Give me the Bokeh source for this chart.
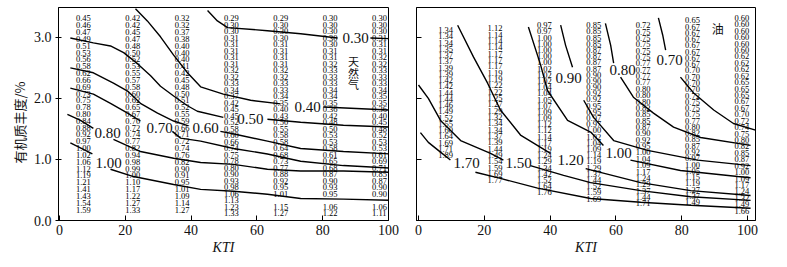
import numpy as np
from bokeh.plotting import figure
from bokeh.models import ColumnDataSource, FixedTicker, Range1d, NumeralTickFormatter, Title
from bokeh.layouts import row
from bokeh.core.properties import value
from bokeh.embed import file_html
from bokeh.resources import INLINE

NAN = float("nan")

# ---------------- Left panel: gas (天然气) ----------------
L_COL_KTI = [5, 20, 35, 50, 65, 80, 95]
L_COL_TOP = [3.31, 3.31, 3.31, 3.31, 3.31, 3.31, 3.31]
L_COL_BOTTOM = [0.18, 0.18, 0.18, 0.12, 0.12, 0.12, 0.12]
L_COL_A = ["0.45", "0.46", "0.47", "0.49", "0.51", "0.53", "0.56", "0.58", "0.62", "0.66",
           "0.69", "0.73", "0.75", "0.78", "0.80", "0.84", "0.88", "0.92", "0.97", "1.00",
           "1.02", "1.06", "1.12", "1.19", "1.21", "1.41", "1.43", "1.54", "1.59"]
L_COL_B = ["0.42", "0.42", "0.45", "0.47", "0.48", "0.50", "0.52", "0.53", "0.55", "0.57",
           "0.58", "0.60", "0.62", "0.65", "0.67", "0.70", "0.72", "0.74", "0.77", "0.82",
           "0.94", "0.98", "0.99", "1.00", "1.10", "1.17", "1.22", "1.27", "1.33"]
L_COL_C = ["0.32", "0.32", "0.37", "0.38", "0.40", "0.40", "0.40", "0.41", "0.42", "0.45",
           "0.48", "0.50", "0.51", "0.52", "0.55", "0.59", "0.66", "0.71", "0.72", "0.74",
           "0.76", "0.82", "0.90", "0.91", "0.95", "1.01", "1.09", "1.14", "1.27"]
L_COL_D = ["0.29", "0.30", "0.30", "0.31", "0.31", "0.31", "0.31", "0.31", "0.32", "0.32",
           "0.33", "0.34", "0.37", "0.42", "0.45", "0.45", "0.52", "0.58", "0.60", "0.66",
           "0.74", "0.75", "0.78", "0.80", "0.90", "0.93", "0.98", "1.06", "1.13", "1.23", "1.33"]
L_COL_E = ["0.29", "0.30", "0.30", "0.30", "0.31", "0.31", "0.31", "0.31", "0.32", "0.32",
           "0.33", "0.33", "0.34", "0.35", "0.40", "0.43", "0.50", "0.55", "0.58", "0.58",
           "0.64", "0.68", "0.73", "0.77", "0.88", "0.92", "0.95", "1.01", "", "1.15", "1.27"]
L_COL_F = ["0.30", "0.30", "0.30", "0.30", "0.30", "0.31", "0.31", "0.32", "0.33", "0.33",
           "0.33", "0.34", "0.34", "0.35", "0.36", "0.42", "0.48", "0.50", "0.53", "0.53",
           "0.58", "0.61", "0.65", "0.68", "0.87", "0.90", "0.93", "0.95", "", "1.06", "1.22"]
L_COL_G = ["0.30", "0.30", "0.30", "0.31", "0.31", "0.31", "0.32", "0.32", "0.33", "0.33",
           "0.33", "0.34", "0.35", "0.35", "0.36", "0.40", "0.45", "0.48", "0.52", "0.53",
           "0.53", "0.61", "0.69", "0.71", "0.85", "0.87", "0.90", "0.90", "", "1.06", "1.11"]
L_COLS = [L_COL_A, L_COL_B, L_COL_C, L_COL_D, L_COL_E, L_COL_F, L_COL_G]

# contour curves (KTI, TOC) with a break where the label sits
L030_X = [45.0, 48.0, 51.1, 63.2, 73.3, 84.5, NAN, 94.5, 100.6]
L030_Y = [3.44, 3.27, 3.16, 3.11, 3.06, 2.99, NAN, 2.99, 2.98]
L040_X = [23.1, 26.7, 30.7, 34.7, 38.9, 42.9, 49.8, 58.1, 67.2, NAN, 80.2, 100.6]
L040_Y = [3.47, 3.27, 3.01, 2.71, 2.42, 2.19, 2.07, 1.97, 1.91, NAN, 1.86, 1.81]
L050_X = [3.3, 10.3, 15.5, 19.5, 23.7, 27.7, 30.7, 34.7, 38.9, 41.9, 49.8, NAN, 63.2, 73.3, 86.3, 100.6]
L050_Y = [2.99, 2.91, 2.86, 2.75, 2.57, 2.37, 2.20, 2.04, 1.88, 1.79, 1.69, NAN, 1.66, 1.61, 1.56, 1.53]
L060_X = [3.3, 10.3, 16.4, 20.7, 24.6, 29.8, 34.7, 39.2, NAN, 48.9, 52.0, 63.2, 73.3, 86.3, 100.6]
L060_Y = [2.50, 2.42, 2.25, 2.12, 1.92, 1.76, 1.63, 1.55, NAN, 1.46, 1.43, 1.30, 1.18, 1.13, 1.09]
L070_X = [3.3, 10.3, 15.5, 20.7, 24.6, NAN, 34.3, 36.8, 42.9, 52.9, 63.2, 73.3, 86.3, 100.6]
L070_Y = [2.17, 2.07, 1.92, 1.76, 1.63, NAN, 1.46, 1.35, 1.30, 1.18, 1.09, 0.97, 0.90, 0.86]
L080_X = [2.4, 6.4, 10.3, NAN, 16.4, 24.6, 34.7, 42.9, 52.9, 63.2, 73.3, 86.3, 100.6]
L080_Y = [1.74, 1.64, 1.51, NAN, 1.33, 1.13, 1.02, 0.95, 0.92, 0.84, 0.81, 0.81, 0.79]
L100_X = [3.3, 10.0, NAN, 15.5, 22.5, 34.7, 42.9, 52.9, 63.2, 73.3, 86.3, 100.6]
L100_Y = [1.27, 1.09, NAN, 0.84, 0.72, 0.59, 0.51, 0.48, 0.43, 0.36, 0.35, 0.33]
L_CURVES = [(L030_X, L030_Y), (L040_X, L040_Y), (L050_X, L050_Y), (L060_X, L060_Y),
            (L070_X, L070_Y), (L080_X, L080_Y), (L100_X, L100_Y)]
L_LABEL_TEXT = ["0.30", "0.40", "0.50", "0.60", "0.70", "0.80", "1.00"]
L_LABEL_X = [90.0, 75.4, 58.0, 44.4, 30.4, 14.6, 14.9]
L_LABEL_Y = [2.99, 1.86, 1.67, 1.51, 1.51, 1.43, 0.94]

# ---------------- Right panel: oil (油) ----------------
R_COL_KTI = [6, 21, 36, 51, 66, 81, 96]
R_COL_TOP = [3.12, 3.15, 3.20, 3.20, 3.20, 3.28, 3.32]
R_COL_BOTTOM = [1.07, 0.66, 0.46, 0.36, 0.28, 0.30, 0.16]
R_COL_1 = ["1.34", "1.34", "1.34", "1.35", "1.37", "1.37", "1.39", "1.39", "1.42", "1.42",
           "1.44", "1.44", "1.46", "1.49", "1.52", "1.55", "1.60", "1.64", "1.69", "1.71", "1.89"]
R_COL_2 = ["1.12", "1.14", "1.14", "1.14", "1.17", "1.17", "1.17", "1.19", "1.19", "1.22",
           "1.22", "1.25", "1.27", "1.29", "1.32", "1.34", "1.34", "1.37", "1.39", "1.44",
           "1.49", "1.54", "1.59", "1.69", "1.77"]
R_COL_3 = ["0.97", "0.97", "1.00", "1.00", "1.00", "1.00", "1.00", "1.02", "1.02", "1.02",
           "1.04", "1.04", "1.05", "1.07", "1.09", "1.09", "1.12", "1.12", "1.14", "1.17",
           "1.19", "1.24", "1.29", "1.34", "1.42", "1.52", "1.64", "1.76"]
R_COL_4 = ["0.85", "0.85", "0.85", "0.85", "0.87", "0.87", "0.87", "0.87", "0.90", "0.90",
           "0.90", "0.92", "0.92", "0.95", "0.95", "0.97", "0.97", "1.00", "1.02", "1.04",
           "1.09", "1.14", "1.19", "1.29", "1.37", "1.44", "1.52", "1.59", "1.69"]
R_COL_5 = ["0.72", "0.75", "0.75", "0.75", "0.75", "0.75", "0.77", "0.77", "0.77", "0.77",
           "0.80", "0.80", "0.80", "0.82", "0.85", "0.85", "0.87", "0.90", "0.92", "0.95",
           "1.00", "1.04", "1.09", "1.17", "1.24", "1.29", "1.37", "1.44", "1.71"]
R_COL_6 = ["0.65", "0.67", "0.67", "0.67", "0.67", "0.67", "0.67", "0.67", "0.70", "0.70",
           "0.70", "0.70", "0.72", "0.75", "0.75", "0.75", "0.77", "0.80", "0.82", "0.85",
           "0.87", "0.92", "0.97", "1.00", "1.05", "1.15", "1.19", "1.27", "1.37", "1.49"]
R_COL_7 = ["0.60", "0.60", "0.60", "0.60", "0.60", "0.60", "0.62", "0.62", "0.62", "0.62",
           "0.65", "0.65", "0.65", "0.67", "0.67", "0.70", "0.72", "0.74", "0.75", "0.80",
           "0.82", "0.85", "0.87", "0.92", "1.00", "1.09", "1.17", "1.24", "1.32", "1.49", "1.66"]
R_COLS = [R_COL_1, R_COL_2, R_COL_3, R_COL_4, R_COL_5, R_COL_6, R_COL_7]

R170_X = [0.6, 3.0, 6.7, 9.7, NAN, 17.3, 24.9, 36.2, 52.3, 67.5, 82.7, 100.9]
R170_Y = [1.44, 1.28, 1.12, 0.99, NAN, 0.79, 0.69, 0.53, 0.36, 0.30, 0.25, 0.20]
R150_X = [0.0, 3.0, 6.7, 12.8, 21.9, 25.8, NAN, 34.0, 44.1, 52.3, 67.5, 82.7, 100.9]
R150_Y = [2.22, 2.00, 1.64, 1.31, 1.10, 0.99, NAN, 0.90, 0.74, 0.62, 0.49, 0.39, 0.33]
R120_X = [11.9, 16.7, 21.0, 24.9, 31.0, 40.1, NAN, 50.8, 67.5, 82.7, 100.9]
R120_Y = [3.20, 2.68, 2.25, 1.81, 1.40, 1.10, NAN, 0.85, 0.62, 0.49, 0.41]
R100_X = [33.4, 37.1, 39.2, 45.3, 52.3, 56.2, NAN, 64.4, 79.6, 97.0, 100.9]
R100_Y = [3.17, 2.55, 2.13, 1.64, 1.45, 1.23, NAN, 0.99, 0.82, 0.72, 0.70]
R090_X = [43.2, 44.7, 46.8, NAN, 50.2, 53.2, 59.3, 69.6, 84.8, 100.9]
R090_Y = [3.20, 2.87, 2.51, NAN, 1.97, 1.69, 1.31, 1.15, 0.99, 0.90]
R080_X = [56.8, 58.4, 59.3, NAN, 61.4, 65.3, 71.4, 77.5, 85.7, 100.9]
R080_Y = [3.23, 2.87, 2.58, NAN, 2.35, 2.02, 1.76, 1.53, 1.36, 1.23]
R070_X = [72.9, 74.2, 75.1, NAN, 79.6, 83.6, 89.7, 95.7, 102.4]
R070_Y = [3.32, 3.04, 2.79, NAN, 2.35, 2.09, 1.81, 1.59, 1.48]
R_CURVES = [(R170_X, R170_Y), (R150_X, R150_Y), (R120_X, R120_Y), (R100_X, R100_Y),
            (R090_X, R090_Y), (R080_X, R080_Y), (R070_X, R070_Y)]
R_LABEL_TEXT = ["1.70", "1.50", "1.20", "1.00", "0.90", "0.80", "0.70"]
R_LABEL_X = [14.6, 30.4, 46.2, 60.8, 45.6, 62.0, 76.3]
R_LABEL_Y = [0.94, 0.94, 0.99, 1.10, 2.33, 2.46, 2.63]

X_TICKS = [0, 20, 40, 60, 80, 100]
Y_TICKS = [0, 1, 2, 3]

SERIF = "Liberation Serif"
CJK = "Noto Sans CJK SC"
INK = "#111111"


def make_fig(width, x_start, x_end, left, right):
    p = figure(width=width, height=265, x_range=Range1d(x_start, x_end),
               y_range=Range1d(0, 3.49), output_backend="svg", toolbar_location=None,
               min_border_left=left, min_border_right=right, min_border_top=7,
               min_border_bottom=45)
    p.grid.visible = False
    p.outline_line_color = "black"
    p.outline_line_width = 1
    p.background_fill_color = "white"
    p.border_fill_color = "white"
    xa = p.xaxis[0]
    xa.ticker = FixedTicker(ticks=X_TICKS)
    xa.major_tick_in = 5
    xa.major_tick_out = 0
    xa.minor_tick_line_color = None
    xa.major_label_text_font = SERIF
    xa.major_label_text_font_size = "14px"
    xa.major_label_text_color = INK
    xa.major_label_standoff = 4
    xa.axis_label = "KTI"
    xa.axis_label_text_font = SERIF
    xa.axis_label_text_font_style = "italic"
    xa.axis_label_text_font_size = "14px"
    xa.axis_label_text_color = INK
    xa.axis_label_standoff = 2
    ya = p.yaxis[0]
    ya.ticker = FixedTicker(ticks=Y_TICKS)
    ya.minor_tick_line_color = None
    return p


def add_columns(p, kti, tops, bottoms, cols):
    xs, ys, ts = [], [], []
    for k, t, b, vals in zip(kti, tops, bottoms, cols):
        rows = np.linspace(t, b, len(vals))
        for yy, v in zip(rows, vals):
            xs.append(k)
            ys.append(float(yy))
            ts.append(v)
    src = ColumnDataSource(dict(x=xs, y=ys, t=ts))
    p.text(x="x", y="y", text="t", source=src, text_font=value(SERIF),
           text_font_size="8.5px", text_align="left", text_baseline="middle",
           text_color="black")


def add_curves(p, curves, ltext, lx, ly):
    for cx, cy in curves:
        p.line(cx, cy, line_color="black", line_width=1.4)
    src = ColumnDataSource(dict(x=lx, y=ly, t=ltext))
    p.text(x="x", y="y", text="t", source=src, text_font=value(SERIF),
           text_font_size="15px", text_align="center", text_baseline="middle",
           text_color=INK)


# left figure
p1 = make_fig(402, -0.3, 100.0, 58, 14)
ya = p1.yaxis[0]
ya.major_tick_in = 3
ya.major_tick_out = 3
ya.formatter = NumeralTickFormatter(format="0.0")
ya.major_label_text_font = SERIF
ya.major_label_text_font_size = "14px"
ya.major_label_text_color = INK
ya.major_label_standoff = 4
add_columns(p1, L_COL_KTI, L_COL_TOP, L_COL_BOTTOM, L_COLS)
add_curves(p1, L_CURVES, L_LABEL_TEXT, L_LABEL_X, L_LABEL_Y)
p1.text(x=[89.4], y=[2.42], text=["天\n然\n气"], text_font=value(CJK),
        text_font_size="11px", text_align="center", text_baseline="middle",
        text_line_height=0.72, text_color=INK)
p1.add_layout(Title(text="有机质丰度/%", align="left", offset=57, vertical_align="middle",
                    text_font=CJK, text_font_size="13px", text_font_style="normal",
                    text_color=INK, standoff=2), "left")

# right figure
p2 = make_fig(363, -0.6, 102.4, 14, 10)
ya2 = p2.yaxis[0]
ya2.major_tick_in = 5
ya2.major_tick_out = 0
ya2.major_label_text_font_size = "0px"
ya2.major_label_standoff = 0
add_columns(p2, R_COL_KTI, R_COL_TOP, R_COL_BOTTOM, R_COLS)
add_curves(p2, R_CURVES, R_LABEL_TEXT, R_LABEL_X, R_LABEL_Y)
p2.text(x=[90.9], y=[3.15], text=["油"], text_font=value(CJK),
        text_font_size="12px", text_align="center", text_baseline="middle",
        text_color=INK)

layout = row(p1, p2)
open("out.html", "w").write(file_html(layout, INLINE))
